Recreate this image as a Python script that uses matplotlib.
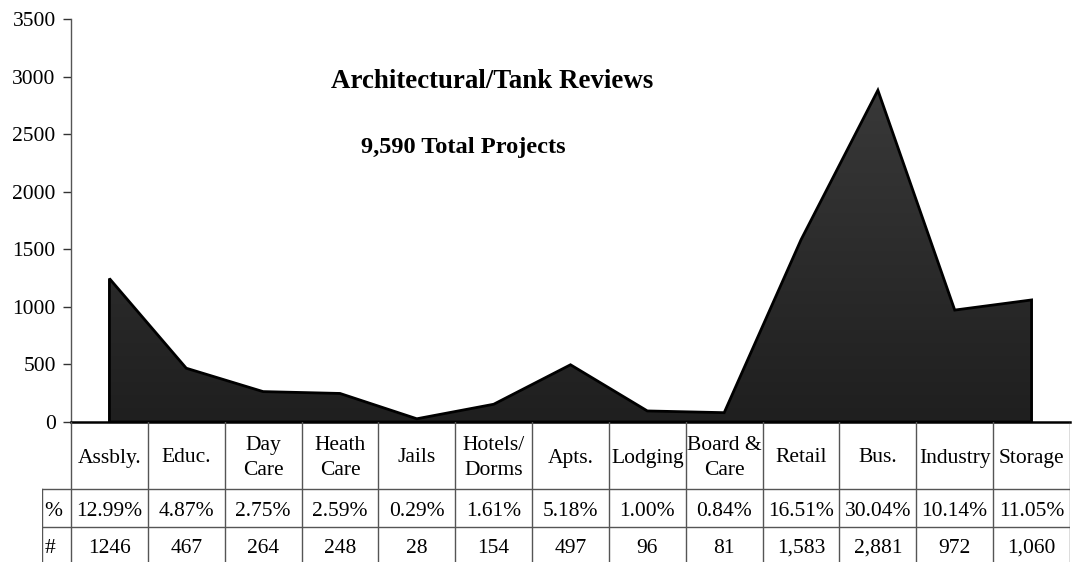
import matplotlib
matplotlib.use("Agg")
from matplotlib import pyplot as plt
from matplotlib.patches import Polygon
from matplotlib.colors import LinearSegmentedColormap
import numpy as np

# Chart data
categories = ["Assbly.", "Educ.", "Day\nCare", "Heath\nCare", "Jails", "Hotels/\nDorms",
              "Apts.", "Lodging", "Board &\nCare", "Retail", "Bus.", "Industry", "Storage"]
counts = [1246, 467, 264, 248, 28, 154, 497, 96, 81, 1583, 2881, 972, 1060]
count_labels = ["1246", "467", "264", "248", "28", "154", "497", "96", "81",
                "1,583", "2,881", "972", "1,060"]
pct_labels = ["12.99%", "4.87%", "2.75%", "2.59%", "0.29%", "1.61%", "5.18%",
              "1.00%", "0.84%", "16.51%", "30.04%", "10.14%", "11.05%"]
yticks = [0, 500, 1000, 1500, 2000, 2500, 3000, 3500]

plt.rcParams["font.family"] = ["Liberation Serif", "DejaVu Serif"]

W, H = 1075, 562


def main():
    fig = plt.figure(figsize=(W / 100, H / 100), dpi=100)
    n = len(categories)
    x = np.arange(n)

    # Main area chart
    ax = fig.add_axes([71 / W, (H - 422) / H, (1070 - 71) / W, (422 - 19) / H])
    ax.set_xlim(-0.5, n - 0.5)

    verts = [(x[0], 0)] + list(zip(x, counts)) + [(x[-1], 0)]
    poly = Polygon(verts, closed=True, facecolor="none", edgecolor="black",
                   lw=2.0, joinstyle="miter", zorder=3)
    ax.add_patch(poly)

    cmap = LinearSegmentedColormap.from_list("g", ["#1f1f1f", "#3c3c3c"])
    grad = np.linspace(0, 1, 256).reshape(-1, 1)
    img = ax.imshow(grad, extent=[-0.5, n - 0.5, 0, 3300], origin="lower",
                    aspect="auto", cmap=cmap, zorder=2)
    img.set_clip_path(poly)
    ax.set_xlim(-0.5, n - 0.5)
    ax.set_ylim(0, 3500)

    for s in ["top", "right", "bottom"]:
        ax.spines[s].set_visible(False)
    ax.spines["left"].set_color("#555555")
    ax.spines["left"].set_linewidth(1.0)
    ax.set_xticks([])
    ax.set_yticks(yticks)
    ax.tick_params(axis="y", length=6, width=1, color="#333333", pad=5, labelsize=15.5)

    fig.text(492 / W, 1 - 82 / H, "Architectural/Tank Reviews", ha="center",
             va="center", fontsize=19.4, fontweight="bold")
    fig.text(463 / W, 1 - 147 / H, "9,590 Total Projects", ha="center",
             va="center", fontsize=17.6, fontweight="bold")

    # Data table below the chart
    colw = (1070 - 71) / n
    left_ext = -0.5 - 29 / colw
    tx = fig.add_axes([42 / W, 0, (1070 - 42) / W, 140 / H])
    tx.set_xlim(left_ext, n - 0.5)
    tx.set_ylim(0, 140)
    tx.axis("off")

    grid_kw = dict(color="#555555", lw=1.0)
    tx.plot([-0.5, n - 0.5], [140, 140], color="black", lw=1.8, clip_on=False)
    for yy in [73, 35]:
        tx.plot([left_ext, n - 0.5], [yy, yy], **grid_kw)
    for i in range(n + 1):
        tx.plot([i - 0.5, i - 0.5], [0, 140], **grid_kw)
    tx.plot([left_ext, left_ext], [0, 73], **grid_kw)

    fs = 15.5
    for i in range(n):
        tx.text(i, 104, categories[i], ha="center", va="center", fontsize=fs,
                linespacing=1.38)
        tx.text(i, 51, pct_labels[i], ha="center", va="center", fontsize=fs)
        tx.text(i, 13.5, count_labels[i], ha="center", va="center", fontsize=fs)
    tx.text(left_ext + 0.03, 51, "%", ha="left", va="center", fontsize=fs)
    tx.text(left_ext + 0.03, 13.5, "#", ha="left", va="center", fontsize=fs)

    fig.savefig("out.png", dpi=100)


if __name__ == "__main__":
    main()
